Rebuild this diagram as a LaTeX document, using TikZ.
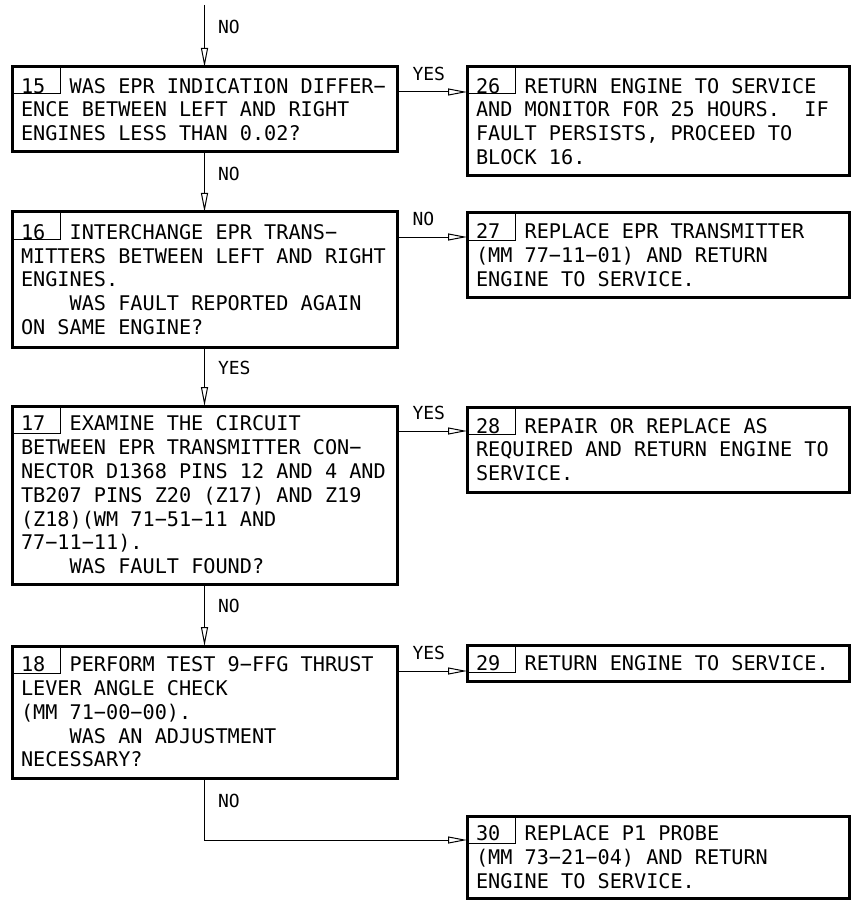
\documentclass[tikz,border=0pt]{standalone}
\usepackage{fontspec}
\newfontfamily\chartfont{DejaVu Sans Mono}
\usetikzlibrary{arrows.meta}

% one character cell of blank space
\newcommand\sk{\kern\fontcharwd\font`0\relax}

\begin{document}
\begin{tikzpicture}[
    x=1pt, y=-1pt,
    blk/.style ={
        draw,
        line width=3pt,
        outer sep=0pt,
        anchor=north west,
        inner xsep=9pt,
        inner ysep=0pt,
        align=left,
        font=\chartfont\fontsize{20.2}{23.8}\selectfont
    },
    lblk/.style ={blk, text width=367pt},
    rblk/.style ={blk, text width=364pt},
    cell/.style ={draw, line width=1pt},
    flow/.style ={line width=1pt, -{Triangle[open, length=19pt, width=7pt]}},
    vlbl/.style ={
        pos=.36,
        anchor=west,
        xshift=13pt,
        inner sep=0pt,
        font=\chartfont\fontsize{18}{20}\selectfont
    },
    hlbl/.style ={
        pos=0,
        anchor=base west,
        xshift=15pt,
        yshift=11.5pt,
        inner sep=0pt,
        font=\chartfont\fontsize{18}{20}\selectfont
    }
    ]
    \useasboundingbox (0,0) rectangle (851,901);

    % left column: questions
    \node[lblk, minimum height=85pt] (b15) at (12,67)
        {15\sk\sk WAS\sk EPR\sk INDICATION\sk DIFFER−\\ENCE\sk BETWEEN\sk LEFT\sk AND\sk RIGHT\\ENGINES\sk LESS\sk THAN\sk 0.02?};
    \node[lblk, minimum height=135pt] (b16) at (12,212)
        {16\sk\sk INTERCHANGE\sk EPR\sk TRANS−\\MITTERS\sk BETWEEN\sk LEFT\sk AND\sk RIGHT\\ENGINES.\\\phantom{0000}WAS\sk FAULT\sk REPORTED\sk AGAIN\\ON\sk SAME\sk ENGINE?};
    \node[lblk, minimum height=178pt] (b17) at (12,406)
        {17\sk\sk EXAMINE\sk THE\sk CIRCUIT\\BETWEEN\sk EPR\sk TRANSMITTER\sk CON−\\NECTOR\sk D1368\sk PINS\sk 12\sk AND\sk 4\sk AND\\TB207\sk PINS\sk Z20\sk (Z17)\sk AND\sk Z19\\(Z18)(WM\sk 71−51−11\sk AND\\77−11−11).\\\phantom{0000}WAS\sk FAULT\sk FOUND?};
    \node[lblk, minimum height=132pt] (b18) at (12,646)
        {18\sk\sk PERFORM\sk TEST\sk 9−FFG\sk THRUST\\LEVER\sk ANGLE\sk CHECK\\(MM\sk 71−00−00).\\\phantom{0000}WAS\sk AN\sk ADJUSTMENT\\NECESSARY?};

    % right column: actions
    \node[rblk, minimum height=109pt] (b26) at (467,67)
        {26\sk\sk RETURN\sk ENGINE\sk TO\sk SERVICE\\AND\sk MONITOR\sk FOR\sk 25\sk HOURS.\sk\sk IF\\FAULT\sk PERSISTS,\sk PROCEED\sk TO\\BLOCK\sk 16.};
    \node[rblk, minimum height=84pt] (b27) at (467,213)
        {27\sk\sk REPLACE\sk EPR\sk TRANSMITTER\\(MM\sk 77−11−01)\sk AND\sk RETURN\\ENGINE\sk TO\sk SERVICE.};
    \node[rblk, minimum height=85pt] (b28) at (467,407)
        {28\sk\sk REPAIR\sk OR\sk REPLACE\sk AS\\REQUIRED\sk AND\sk RETURN\sk ENGINE\sk TO\\SERVICE.};
    \node[rblk, minimum height=36pt] (b29) at (467,645)
        {29\sk\sk RETURN\sk ENGINE\sk TO\sk SERVICE.};
    \node[rblk, minimum height=82pt] (b30) at (467,816)
        {30\sk\sk REPLACE\sk P1\sk PROBE\\(MM\sk 73−21−04)\sk AND\sk RETURN\\ENGINE\sk TO\sk SERVICE.};

    % block number cells
    \foreach \b in {b15,b16,b17,b18,b26,b27,b28,b29,b30}
        \draw[cell] (\b.north west) rectangle ++(48,27);

    \coordinate (entry) at (204.5,5);
    \draw[flow] (entry) -- node[vlbl] {NO} (b15.north);

    \foreach \src/ \dst/ \lab in {b15/b16/NO, b16/b17/YES, b17/b18/NO}
        \draw[flow] (\src.south) -- node[vlbl] {\lab} (\dst.north);

    \foreach \src/ \dst/ \lab in {b15/b26/YES, b16/b27/NO, b17/b28/YES, b18/b29/YES}
        \draw[flow] ([yshift=-25pt]\src.north east) -- node[hlbl] {\lab} ([yshift=-25pt]\src.north east -| \dst.west);

    \draw[flow] (b18.south) |- node[vlbl, pos=.185] {NO} ([yshift=-24pt]b30.north west);
\end{tikzpicture}
\end{document}
